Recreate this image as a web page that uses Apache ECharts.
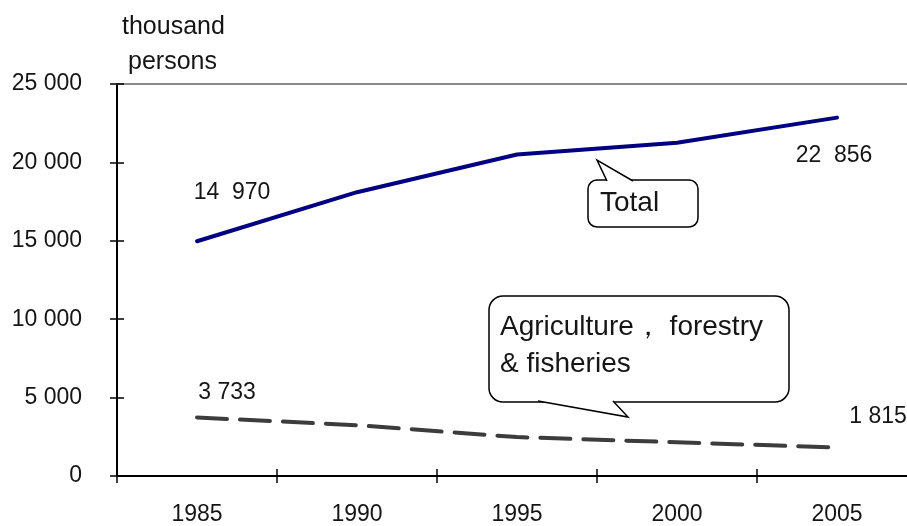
<!DOCTYPE html>
<html>
<head>
<meta charset="utf-8">
<script src="https://cdn.jsdelivr.net/npm/echarts@6/dist/echarts.min.js"></script>
<style>
  html, body { margin: 0; padding: 0; background: #fff; overflow: hidden; }
  /* plot runs slightly past the right edge of the window */
  #chart { width: 917px; height: 526px; }
</style>
</head>
<body>
<div id="chart"></div>
<script>
// Employed persons, thousands
const years = ['1985', '1990', '1995', '2000', '2005'];
const totalEmployed = [14970, 18100, 20500, 21250, 22856];
const agriEmployed = [3733, 3240, 2480, 2150, 1815];
const yMin = 0;
const yMax = 25000;
const yStep = 5000;

const FONT = '"Liberation Sans", Arial, Helvetica, sans-serif';
const TEXT = '#151515';

// thousands separated by a space; gap widened for the large end-point labels
function fmt(v, gap) {
  const s = String(Math.round(v));
  if (s.length <= 3) return s;
  const head = s.slice(0, s.length - 3);
  const tail = s.slice(-3);
  return head + (gap || ' ') + tail;
}
function fmtLabel(v) {
  return fmt(v, v >= 10000 ? '  ' : ' ');
}

// label placement for end-point values (offset from the point, px)
const totalLabelOffsets = { 0: [35, -49], 4: [-3, 38] };
const agriLabelOffsets = { 0: [30, -25], 4: [41, -31] };

function withEndLabels(values, offsets) {
  return values.map((v, i) => {
    const item = { value: v };
    if (offsets[i]) {
      item.label = {
        show: true,
        position: 'inside',
        offset: offsets[i],
        formatter: (p) => fmtLabel(p.value),
        color: TEXT,
        fontSize: 23,
        fontFamily: FONT
      };
    }
    return item;
  });
}

// rounded speech-bubble: box, a white wedge hiding the box edge, and the wedge outline
function callout(box, r, wedge, text, textPos, fontSize, lineHeight) {
  const [x0, y0, x1, y1] = box;
  const [a, b, tip] = wedge; // two base points on the edge and the tip
  return [
    {
      type: 'rect', z: 20,
      shape: { x: x0, y: y0, width: x1 - x0, height: y1 - y0, r: r },
      style: { fill: '#fff', stroke: '#000', lineWidth: 1.5 }
    },
    {
      type: 'polygon', z: 21,
      shape: { points: [a, tip, b] },
      style: { fill: '#fff', stroke: null }
    },
    {
      type: 'polyline', z: 22,
      shape: { points: [a, tip, b] },
      style: { fill: null, stroke: '#000', lineWidth: 1.5 }
    },
    {
      type: 'text', z: 23, x: textPos[0], y: textPos[1],
      style: {
        text: text, fontSize: fontSize, lineHeight: lineHeight,
        fontFamily: FONT, fill: TEXT
      }
    }
  ];
}

const chart = echarts.init(document.getElementById('chart'), null, { renderer: 'canvas' });

const baseCat = {
  type: 'category',
  data: years,
  boundaryGap: true,
  splitLine: { show: false }
};
const baseVal = {
  type: 'value',
  min: yMin,
  max: yMax,
  interval: yStep,
  splitLine: { show: false }
};
const tickStyle = { color: '#000', width: 1.5 };
const axisLineStyle = { color: '#000', width: 2 };

chart.setOption({
  animation: false,
  backgroundColor: '#fff',
  textStyle: { fontFamily: FONT },
  grid: { left: 117, top: 84, right: 0, height: 392, containLabel: false },
  xAxis: [
    Object.assign({}, baseCat, {
      position: 'bottom',
      axisLine: { show: true, lineStyle: axisLineStyle },
      axisTick: { show: true, length: 7, lineStyle: tickStyle },
      axisLabel: { margin: 27, fontSize: 23, color: TEXT, fontFamily: FONT }
    }),
    // inner half of the crossing tick marks
    Object.assign({}, baseCat, {
      position: 'bottom',
      axisLine: { show: true, lineStyle: axisLineStyle },
      axisTick: { show: true, inside: true, length: 7, lineStyle: tickStyle },
      axisLabel: { show: false }
    }),
    // light frame line along the top of the plot
    Object.assign({}, baseCat, {
      position: 'top',
      axisLine: { show: true, onZero: false, lineStyle: { color: '#8a8a8a', width: 2 } },
      axisTick: { show: false },
      axisLabel: { show: false }
    })
  ],
  yAxis: [
    Object.assign({}, baseVal, {
      position: 'left',
      axisLine: { show: true, onZero: false, lineStyle: axisLineStyle },
      axisTick: { show: true, length: 7, lineStyle: tickStyle },
      axisLabel: {
        margin: 35, fontSize: 23, color: TEXT, fontFamily: FONT,
        formatter: (v) => fmt(v)
      }
    }),
    Object.assign({}, baseVal, {
      position: 'left',
      axisLine: { show: true, onZero: false, lineStyle: axisLineStyle },
      axisTick: { show: true, inside: true, length: 7, lineStyle: tickStyle },
      axisLabel: { show: false }
    })
  ],
  series: [
    {
      name: 'Total',
      type: 'line',
      data: withEndLabels(totalEmployed, totalLabelOffsets),
      showSymbol: true,
      symbol: 'circle',
      symbolSize: 1,
      itemStyle: { color: 'rgba(0,0,0,0)' },
      lineStyle: { color: '#000080', width: 4, cap: 'round', join: 'round' },
      emphasis: { disabled: true },
      silent: true,
      z: 3
    },
    {
      name: 'Agriculture, forestry & fisheries',
      type: 'line',
      data: withEndLabels(agriEmployed, agriLabelOffsets),
      showSymbol: true,
      symbol: 'circle',
      symbolSize: 1,
      itemStyle: { color: 'rgba(0,0,0,0)' },
      lineStyle: { color: '#3c3c3c', width: 4, type: [30, 13], cap: 'round' },
      emphasis: { disabled: true },
      silent: true,
      z: 3
    }
  ],
  graphic: [
    {
      type: 'text', x: 122, y: 15, z: 10,
      style: { text: 'thousand', fontSize: 25, fontFamily: FONT, fill: TEXT }
    },
    {
      type: 'text', x: 128, y: 50, z: 10,
      style: { text: 'persons', fontSize: 25, fontFamily: FONT, fill: TEXT }
    }
  ]
  .concat(callout([588, 180, 698, 227], 9, [[607, 181], [633, 181], [597, 160]],
                  'Total', [600, 186], 28, 34))
  .concat(callout([489, 296, 789, 402], 14, [[538, 401], [613, 401], [628, 417]],
                  'Agriculture\uFF0C forestry\n& fisheries', [500, 309], 28, 37))
});
</script>
</body>
</html>
